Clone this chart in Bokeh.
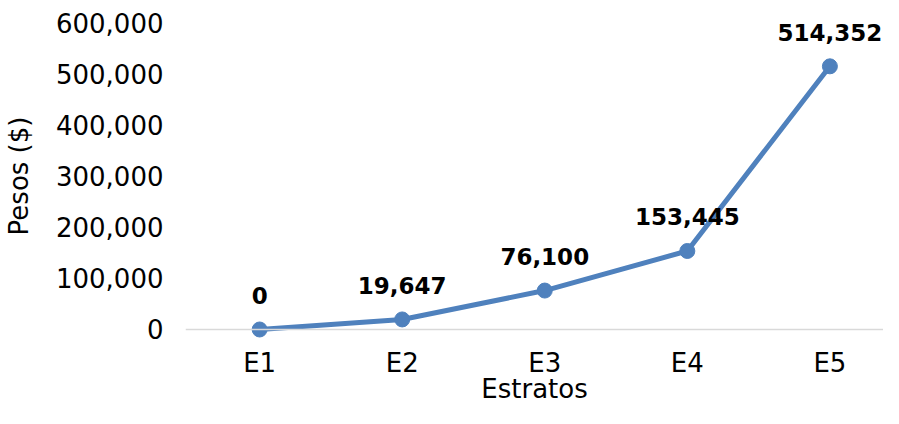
from bokeh.plotting import figure
from bokeh.models import ColumnDataSource, FixedTicker, NumeralTickFormatter, Span, Range1d, LabelSet
from bokeh.core.properties import value
from bokeh.embed import file_html
from bokeh.resources import INLINE

categories = ["E1", "E2", "E3", "E4", "E5"]
values = [0, 19647, 76100, 153445, 514352]
y_ticks = [0, 100000, 200000, 300000, 400000, 500000, 600000]
x_title = "Estratos"
y_title = "Pesos ($)"

xs = list(range(len(categories)))
labels = [f"{v:,}" for v in values]
src = ColumnDataSource(dict(x=xs, y=values, lab=labels))

FONT = "DejaVu Sans"
BLUE = "#4F81BD"
Y0, Y1 = -17600, 617600

p = figure(width=883, height=408, output_backend="svg", toolbar_location=None,
           x_range=Range1d(-0.52, 4.376), y_range=Range1d(Y0, Y1),
           min_border_left=178, min_border_top=13, min_border_right=0, min_border_bottom=70)
p.outline_line_color = None
p.border_fill_color = "white"
p.grid.grid_line_color = None
p.background_fill_color = "white"

p.add_layout(Span(location=0, dimension="width", line_color="#D9D9D9", line_width=1.5))

p.line("x", "y", source=src, line_color=BLUE, line_width=5)
p.scatter("x", "y", source=src, size=15, fill_color=BLUE, line_color=BLUE)

p.add_layout(LabelSet(x="x", y="y", text="lab", source=src, y_offset=34,
                      text_align="center", text_baseline="middle",
                      text_font=value(FONT), text_font_size="23px", text_font_style="bold",
                      text_color="black"))

xa = p.xaxis[0]
xa.ticker = FixedTicker(ticks=xs)
xa.major_label_overrides = {i: c for i, c in zip(xs, categories)}
xa.axis_line_color = None
xa.major_tick_line_color = None
xa.minor_tick_line_color = None
xa.major_label_standoff = 3
xa.major_label_text_font = FONT
xa.major_label_text_font_size = "26px"
xa.major_label_text_color = "black"
xa.axis_label = x_title
xa.axis_label_text_font = FONT
xa.axis_label_text_font_size = "26px"
xa.axis_label_text_font_style = "normal"
xa.axis_label_text_color = "black"
xa.axis_label_standoff = -7

ya = p.yaxis[0]
ya.ticker = FixedTicker(ticks=y_ticks)
ya.formatter = NumeralTickFormatter(format="0,0")
ya.axis_line_color = None
ya.major_tick_line_color = None
ya.minor_tick_line_color = None
ya.major_label_standoff = 16
ya.major_label_text_font = FONT
ya.major_label_text_font_size = "26px"
ya.major_label_text_color = "black"
ya.axis_label = y_title
ya.axis_label_text_font = FONT
ya.axis_label_text_font_size = "26px"
ya.axis_label_text_font_style = "normal"
ya.axis_label_text_color = "black"
ya.axis_label_standoff = 19

open("out.html", "w").write(file_html(p, INLINE))
